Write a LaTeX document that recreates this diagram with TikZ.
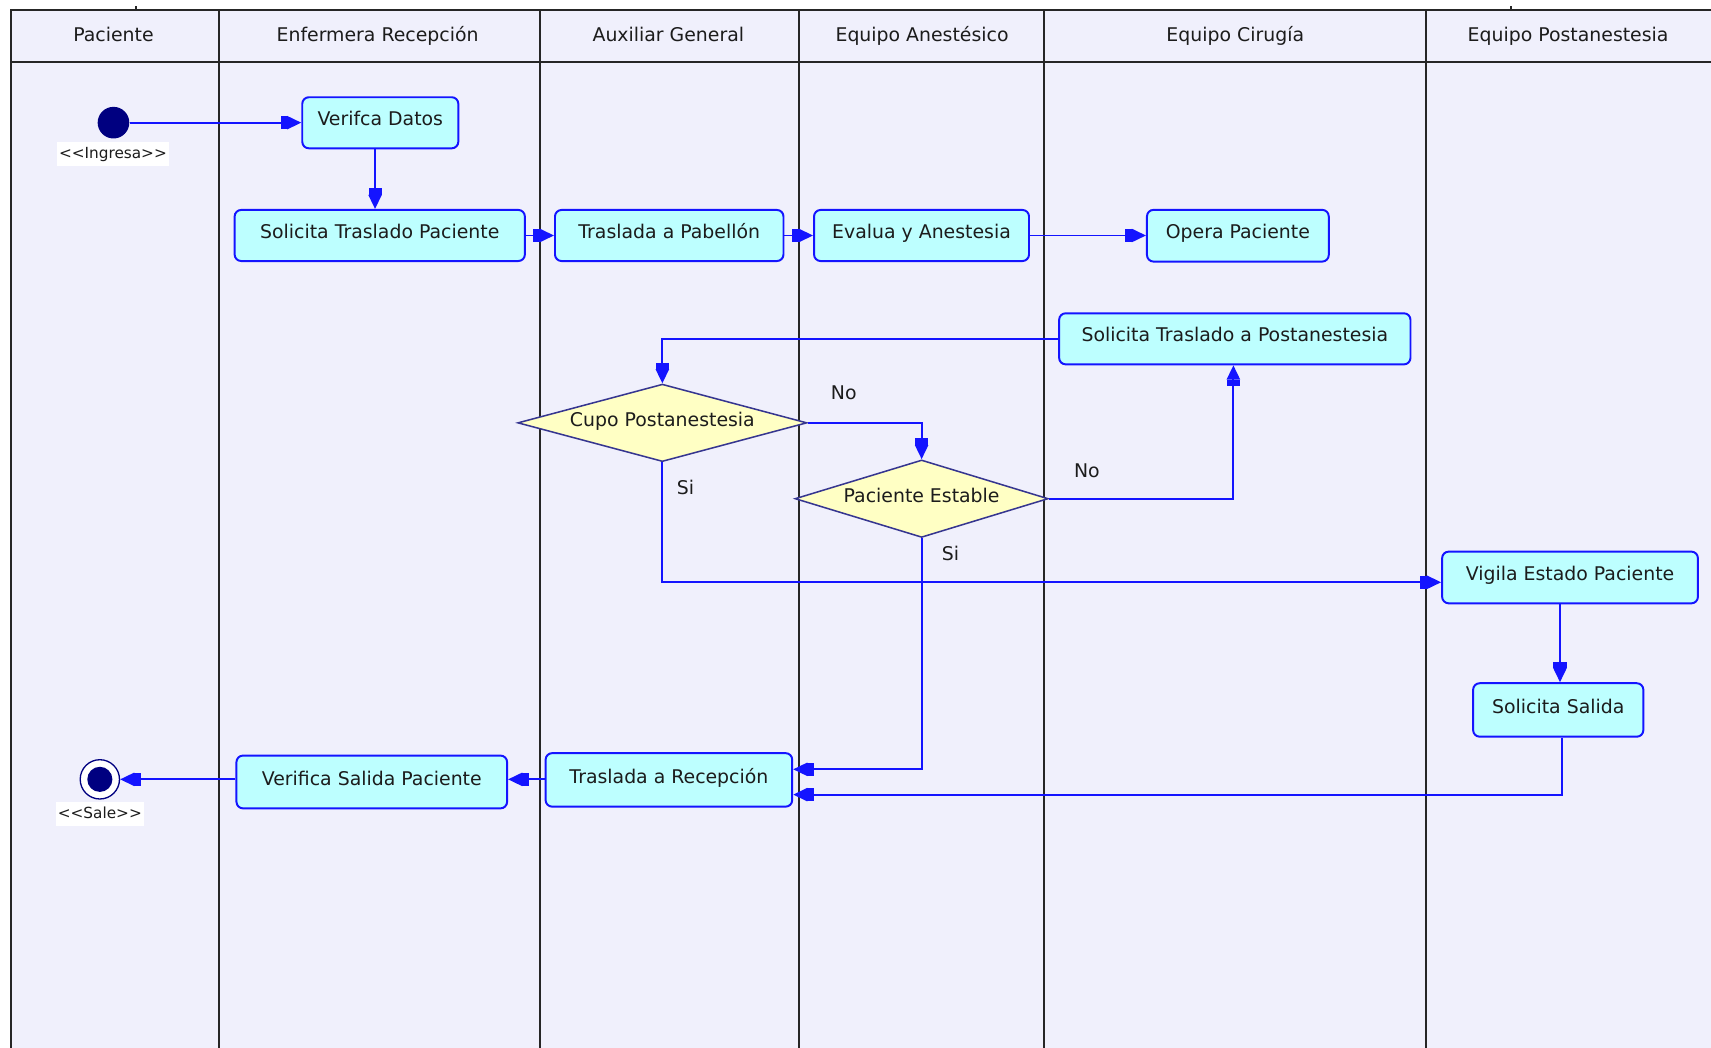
\documentclass[tikz,border=0pt]{standalone}
\usepackage{fontspec}
\setmainfont{DejaVu Sans}
\usetikzlibrary{shapes.geometric,arrows.meta,calc}
\definecolor{lanebg}{HTML}{F0F0FC}
\definecolor{boxfill}{HTML}{BDFFFF}
\definecolor{dfill}{HTML}{FFFFC4}
\definecolor{lblue}{HTML}{1414FF}
\definecolor{navy}{HTML}{000080}
\definecolor{dborder}{HTML}{363690}
\definecolor{txt}{HTML}{1C1C1C}
\begin{document}
\begin{tikzpicture}[x=0.5pt,y=-0.5pt,
  every node/.style={font=\fontsize{8.65pt}{10pt}\selectfont, text=txt},
  lane/.style={draw=black!85, line width=0.9pt},
  act/.style={draw=lblue, fill=boxfill, rounded corners=3pt, line width=0.9pt,
    inner sep=0pt, text height=6.5pt, text depth=3.6pt},
  dec/.style={diamond, draw=dborder, fill=dfill, line width=0.7pt, inner sep=0pt,
    aspect=3.6, text height=6.5pt, text depth=3.2pt},
  flow/.style={draw=lblue, line width=0.9pt,
    -{Rectangle[length=3pt,width=6pt]Triangle[length=6.5pt,width=6pt]}},
  hdr/.style={text height=6.5pt, text depth=1.8pt},
  stlab/.style={fill=white, inner xsep=1pt, inner ysep=1.5pt, text height=6pt, text depth=2pt,
    font=\fontsize{7pt}{8pt}\selectfont},
  guard/.style={text height=6.5pt, text depth=1.8pt}
]
\useasboundingbox (0,0) rectangle (1568,960.4);
% background of the swimlanes
\fill[lanebg] (9.8,9.2) rectangle (1568,960.4);
% frame and lane lines
\draw[lane] (9.8,960.4) -- (9.8,9.2) -- (1568,9.2);
\draw[lane] (9.8,56.8) -- (1568,56.8);
\foreach \x in {201,495,732.5,957,1306.5}
  \draw[lane] (\x,9.2) -- (\x,960.4);
\draw[lane] (124.5,5.5) -- (124.5,9.2);
\draw[lane] (1384.7,5.5) -- (1384.7,9.2);
% headers
\node[hdr] (h1) at (104,33) {Paciente};
\node[hdr] (h2) at (346,33) {Enfermera Recepción};
\node[hdr] (h3) at (612.5,33) {Auxiliar General};
\node[hdr] (h4) at (845,33) {Equipo Anestésico};
\node[hdr] (h5) at (1132,33) {Equipo Cirugía};
\node[hdr] (h6) at (1437,33) {Equipo Postanestesia};
% start / end
\node[circle, fill=navy, minimum size=14.5pt, inner sep=0pt] (ini) at (104,112.4) {};
\node[stlab] (inglab) at (103.5,141) {<\kern0pt<Ingresa>\kern0pt>};
\node[circle, draw=navy, fill=white, line width=0.6pt, minimum size=18pt, inner sep=0pt,
  path picture={\fill[navy] (path picture bounding box.center) circle (5.75pt);}] (fin) at (91.5,714.2) {};
\node[stlab] (salelab) at (91.5,746.3) {<\kern0pt<Sale>\kern0pt>};
% activities
\node[act, minimum width=71.5pt, minimum height=23.4pt] (vd) at (348.5,112.5) {Verifca Datos};
\node[act, minimum width=133pt, minimum height=23.4pt] (stp) at (348,215.8) {Solicita Traslado Paciente};
\node[act, minimum width=104.7pt, minimum height=23.4pt] (tp) at (613.3,215.8) {Traslada a Pabellón};
\node[act, minimum width=98.5pt, minimum height=23.4pt] (ea) at (844.5,215.8) {Evalua y Anestesia};
\node[act, minimum width=83.3pt, minimum height=23.7pt] (op) at (1134.4,216) {Opera Paciente};
\node[act, minimum width=161pt, minimum height=23.4pt] (stpo) at (1131.6,310.5) {Solicita Traslado a Postanestesia};
\node[act, minimum width=117.2pt, minimum height=23.7pt] (vep) at (1438.8,529.2) {Vigila Estado Paciente};
\node[act, minimum width=78pt, minimum height=24.5pt] (ss) at (1428,650.6) {Solicita Salida};
\node[act, minimum width=113pt, minimum height=24.5pt] (tr) at (613,714.7) {Traslada a Recepción};
\node[act, minimum width=124pt, minimum height=24.2pt] (vsp) at (340.7,716.6) {Verifica Salida Paciente};
% decisions
\node[dec, minimum width=132.5pt, minimum height=35.5pt] (cupo) at (607,387.5) {Cupo Postanestesia};
\node[dec, minimum width=116pt, minimum height=35.5pt] (pe) at (844.6,457) {Paciente Estable};
% helper coordinates
\coordinate (xa) at (343.7,0);
\coordinate (xb) at (1429.6,0);
\coordinate (xc) at (1431.6,0);
\coordinate (xd) at (1130.3,0);
\coordinate (ya) at (0,533.6);
\coordinate (yb) at (0,705);
\coordinate (yc) at (0,728.2);
\coordinate (yd) at (0,714.2);
\coordinate (ye) at (0,310.7);
% connectors
\draw[flow] (ini.east) -- (ini.east -| vd.west);
\draw[flow] (vd.south -| xa) -- (stp.north -| xa);
\draw[flow] (stp.east) -- (stp.east -| tp.west);
\draw[flow] (tp.east) -- (tp.east -| ea.west);
\draw[flow] (ea.east) -- (ea.east -| op.west);
\draw[flow] (stpo.west |- ye) -| (cupo.north);
\draw[flow] (cupo.east) -| (pe.north);
\draw[flow] (pe.east) -| (xd |- stpo.south);
\draw[flow] (cupo.south) |- (vep.west |- ya);
\draw[flow] (pe.south) |- (tr.east |- yb);
\draw[flow] (vep.south -| xb) -- (ss.north -| xb);
\draw[flow] (ss.south -| xc) |- (tr.east |- yc);
\draw[flow] (tr.west |- yd) -- (vsp.east |- yd);
\draw[flow] (vsp.west |- yd) -- (fin.east);
% guard labels
\node[guard] (no1) at (773.2,361) {No};
\node[guard] (no2) at (996,432.5) {No};
\node[guard] (si1) at (628.3,448.4) {Si};
\node[guard] (si2) at (871,509.2) {Si};
\end{tikzpicture}
\end{document}
